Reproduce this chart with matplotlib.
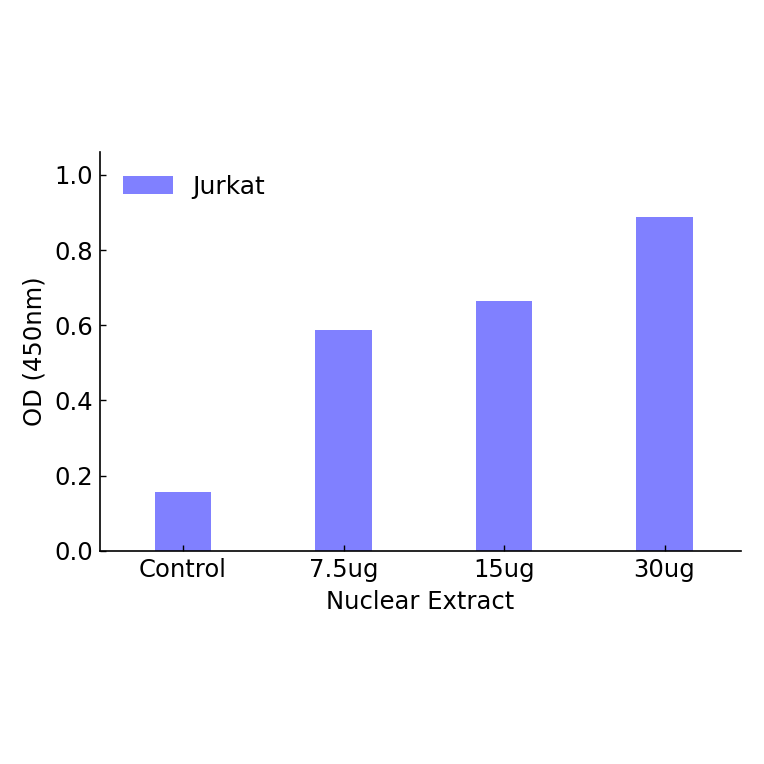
import numpy as np
import matplotlib
matplotlib.use('Agg')
import matplotlib.pyplot as plt

categories = ['Control', '7.5ug', '15ug', '30ug']
od_values = [0.157, 0.588, 0.665, 0.888]
y_ticks = [0.0, 0.2, 0.4, 0.6, 0.8, 1.0]

plt.rcParams['font.family'] = 'DejaVu Sans'

fig = plt.figure(figsize=(7.64, 7.64), dpi=100)
ax = fig.add_axes([0.131, 0.279, 0.839, 0.522])

x = np.arange(len(categories))
ax.bar(x, od_values, width=0.35, color='#8080ff', edgecolor='none', label='Jurkat')

ax.set_xlim(-0.517, 3.477)
ax.set_ylim(0, 1.061)
ax.set_xticks(x)
ax.set_xticklabels(categories)
ax.set_yticks(y_ticks)
ax.set_yticklabels(['{0:.1f}'.format(v) for v in y_ticks])
ax.tick_params(direction='in', length=4, width=1, labelsize=17.5, pad=5)

ax.spines['top'].set_visible(False)
ax.spines['right'].set_visible(False)
ax.spines['left'].set_linewidth(1.2)
ax.spines['bottom'].set_linewidth(1.2)

ax.set_xlabel('Nuclear Extract', fontsize=17.5, labelpad=6)
ax.set_ylabel('OD (450nm)', fontsize=17.5, labelpad=6)

ax.legend(loc='upper left', frameon=False, fontsize=18,
          handlelength=2.0, handleheight=0.7)

fig.savefig('out.png', dpi=100)
